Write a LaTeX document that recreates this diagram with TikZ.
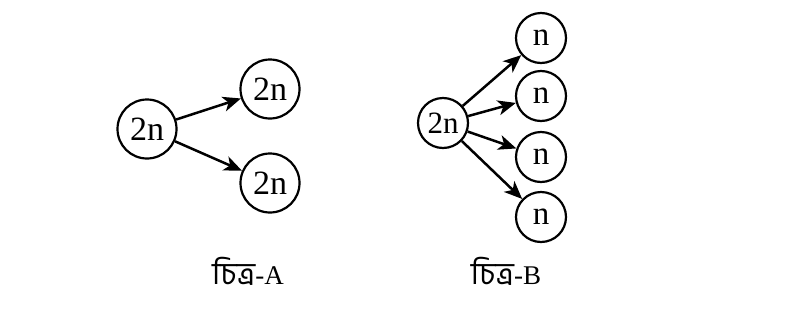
\documentclass[tikz,border=0pt]{standalone}
\usepackage{fontspec}
\setmainfont{Liberation Serif}
\newfontfamily\bn[Script=Bengali]{Hind Siliguri}
\usetikzlibrary{arrows.meta}
\begin{document}
\begin{tikzpicture}[x=1pt,y=-1pt,
  cirA/.style={circle,draw,line width=2.2pt,minimum size=59pt,inner sep=0pt,font=\fontsize{34}{34}\selectfont},
  cirB/.style={circle,draw,line width=2.2pt,minimum size=50pt,inner sep=0pt,font=\fontsize{31}{31}\selectfont},
  cirN/.style={cirB,font=\fontsize{33}{33}\selectfont},
  arr/.style={line width=2.5pt,-{Stealth[length=18pt,width=15pt,inset=5pt]}},
  figlabel/.style={font=\fontsize{27}{27}\selectfont}]
\useasboundingbox (0,0) rectangle (803,311);
\node[cirA] (a0) at (147,129) {2n};
\node[cirA] (a1) at (270,89) {2n};
\node[cirA] (a2) at (270,183) {2n};
\draw[arr] (a0) -- (a1);
\draw[arr] (a0) -- (a2);
\node[cirB] (b0) at (443,123) {2n};
\node[cirN] (b1) at (541,38) {n};
\node[cirN] (b2) at (541,96) {n};
\node[cirN] (b3) at (541,157) {n};
\node[cirN] (b4) at (541,217) {n};
\foreach \i in {1,2,3,4} \draw[arr] (b0) -- (b\i);
\node[figlabel] (la) at (248,271) {{\bn\fontsize{31}{31}\selectfont চিত্র}-A};
\node[figlabel] (lb) at (506,271) {{\bn\fontsize{31}{31}\selectfont চিত্র}-B};
\end{tikzpicture}
\end{document}
